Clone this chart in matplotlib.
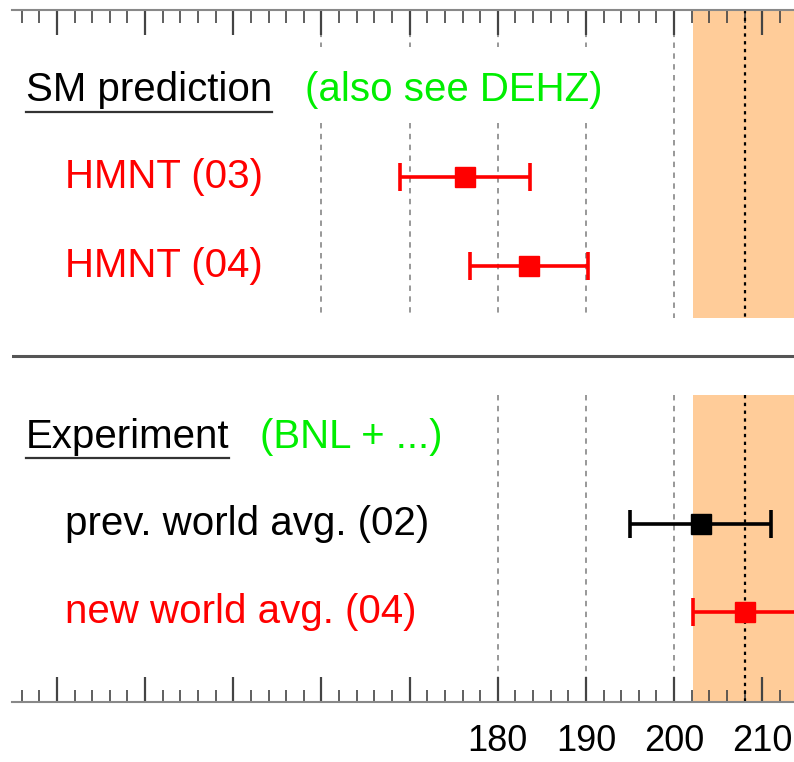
import numpy as np
import matplotlib
matplotlib.use("Agg")
import matplotlib.pyplot as plt
from matplotlib.ticker import MultipleLocator, FuncFormatter

plt.rcParams['font.family'] = ['Liberation Sans', 'DejaVu Sans']

# ---- data (a_mu - 11659000, units 1e-10) ----
sm_labels = ['HMNT (03)', 'HMNT (04)']
sm_values = [176.3, 183.5]
sm_errors = [7.4, 6.7]

exp_labels = ['prev. world avg. (02)', 'new world avg. (04)']
exp_values = [203.0, 208.0]
exp_errors = [8.0, 5.8]
exp_colors = ['black', 'red']

band_center = 208.0
band_error = 5.8
labeled_ticks = [180, 190, 200, 210]

# ---- layout (y in pixel rows, top = 10) ----
y_top, y_bot = 10, 702
y_sm_title = 90
y_sm_rows = [177, 266]
y_sep = 356
y_exp_title = 437
y_exp_rows = [524, 612]
top_panel = (y_top, 318)
low_panel = (395, y_bot)

fig = plt.figure(figsize=(7.94, 7.62), dpi=100)
ax = fig.add_axes([12 / 794, 1 - y_bot / 762, 1 - 12 / 794, (y_bot - y_top) / 762])
ax.set_xlim(124.9, 213.6)
ax.set_ylim(y_bot, y_top)

band_col = '#ffcc99'
grid_kw = dict(color='#909090', linestyle=(0, (3, 3)), linewidth=1.3, zorder=1)

# orange band (experiment average) in both panels
for lo, hi in (top_panel, low_panel):
    ax.fill_betweenx([lo, hi], band_center - band_error, band_center + band_error,
                     color=band_col, lw=0, zorder=0)
    ax.vlines(band_center, lo, hi, color='black', linestyle=(0, (1.5, 2)),
              linewidth=1.6, zorder=2)

# dashed grid lines
for gx in [160, 170, 180, 190]:
    ax.vlines(gx, y_top, 47, **grid_kw)
    ax.vlines(gx, 123, top_panel[1], **grid_kw)
ax.vlines(200, y_top, top_panel[1], **grid_kw)
for gx in [180, 190, 200]:
    ax.vlines(gx, low_panel[0], y_bot, **grid_kw)

# separator
ax.axhline(y_sep, color='#555555', linewidth=2.2, zorder=2)

# error bars
eb_kw = dict(fmt='s', markersize=14, elinewidth=2.6, capsize=10, capthick=2.6, zorder=3)
for v, e, y in zip(sm_values, sm_errors, y_sm_rows):
    ax.errorbar(v, y, xerr=e, color='red', **eb_kw)
for v, e, y, c in zip(exp_values, exp_errors, y_exp_rows, exp_colors):
    ax.errorbar(v, y, xerr=e, color=c, **eb_kw)

# text
fs = 29
tx = ax.get_yaxis_transform()
def xf(px):
    return (px - 12) / (794 - 12)

t1 = ax.text(xf(26), y_sm_title, 'SM prediction', transform=tx, fontsize=fs,
             va='center', ha='left', color='black')
ax.text(xf(305), y_sm_title, '(also see DEHZ)', transform=tx, fontsize=fs,
        va='center', ha='left', color='#00ee00')
for lab, y in zip(sm_labels, y_sm_rows):
    ax.text(xf(65), y, lab, transform=tx, fontsize=fs, va='center', ha='left', color='red')

t2 = ax.text(xf(26), y_exp_title, 'Experiment', transform=tx, fontsize=fs,
             va='center', ha='left', color='black')
ax.text(xf(260), y_exp_title, '(BNL + ...)', transform=tx, fontsize=fs,
        va='center', ha='left', color='#00ee00')
for lab, y, c in zip(exp_labels, y_exp_rows, exp_colors):
    ax.text(xf(65), y, lab, transform=tx, fontsize=fs, va='center', ha='left', color=c)

# underline titles
fig.canvas.draw()
inv = ax.transData.inverted()
for t, yl in ((t1, 112), (t2, 458)):
    bb = t.get_window_extent()
    x0 = inv.transform((bb.x0, 0))[0]
    x1 = inv.transform((bb.x1, 0))[0]
    ax.plot([x0, x1], [yl, yl], color='#333333', linewidth=1.6, zorder=3)

# axes / ticks
for s in ['left', 'right']:
    ax.spines[s].set_visible(False)
for s in ['top', 'bottom']:
    ax.spines[s].set_color('#888888')
    ax.spines[s].set_linewidth(1.5)
ax.set_yticks([])
ax.xaxis.set_major_locator(MultipleLocator(10))
ax.xaxis.set_minor_locator(MultipleLocator(2))
ax.xaxis.set_major_formatter(FuncFormatter(
    lambda v, p: f'{int(round(v))}' if int(round(v)) in labeled_ticks else ''))
ax.tick_params(axis='x', which='both', direction='in', top=True, bottom=True,
               colors='#444444', labelcolor='black')
ax.tick_params(axis='x', which='major', length=18, width=1.6, labelsize=26, pad=16)
ax.tick_params(axis='x', which='minor', length=9, width=1.2)

fig.savefig('out.png', dpi=100)
